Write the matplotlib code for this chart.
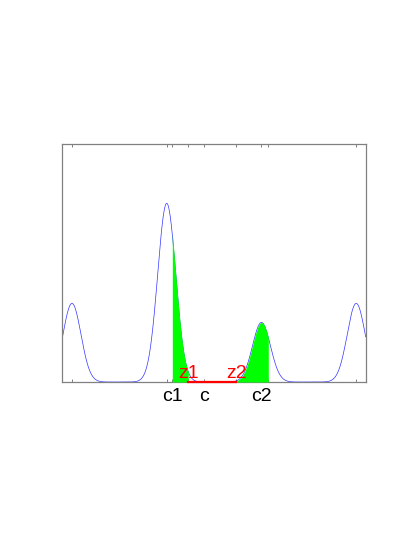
import numpy as np
import matplotlib
matplotlib.use("Agg")
import matplotlib.pyplot as plt

# peaks of the curve (centre, height), shared width
centres = [-3.0, -1.0, 1.0, 3.0]
heights = [0.33, 0.75, 0.25, 0.33]
sigma = 0.19

# marked points on the x axis
z1, z2 = -0.545, 0.469
c = -0.220
fill1 = (-0.882, z1)
fill2 = (z2, 1.144)
tick_pos = [-3.0, -1.0, -0.882, z1, c, z2, 1.0, 1.144, 3.0]
tick_lab = ["", "", "c1", "", "c", "", "c2", "", ""]

xlim = (-3.2, 3.2)


def f(x):
    y = np.zeros_like(x)
    for m, h in zip(centres, heights):
        y += h * np.exp(-(x - m) ** 2 / (2 * sigma ** 2))
    return y


x = np.linspace(xlim[0], xlim[1], 2000)
y = f(x)

fig = plt.figure(figsize=(4.15, 5.37), dpi=100)
ax = fig.add_axes([0.1506, 0.2886, 0.7306, 0.4438])

ax.plot(x, y, color="#3333ff", lw=0.5, zorder=2)
for a, b in (fill1, fill2):
    xs = np.linspace(a, b, 300)
    ax.fill_between(xs, 0, f(xs), color="#00ff00", lw=0, zorder=3)

ax.plot([z1, z2], [0, 0], color="#ff0000", lw=1.6, zorder=4, clip_on=False)
ax.text(z1, 0.017, "z1", color="#ff0000", fontsize=14, ha="center", va="baseline",
        family="Liberation Sans", zorder=5)
ax.text(z2, 0.017, "z2", color="#ff0000", fontsize=14, ha="center", va="baseline",
        family="Liberation Sans", zorder=5)

ax.set_xlim(*xlim)
ax.set_ylim(0, 1)
ax.set_xticks(tick_pos)
ax.set_xticklabels(tick_lab, fontsize=14, family="Liberation Sans")
ax.set_yticks([])
ax.tick_params(axis="x", direction="in", length=2.3, width=0.7, color="#808080",
               top=True, pad=4.5)
for s in ax.spines.values():
    s.set_color("#808080")
    s.set_linewidth(0.9)

fig.savefig("out.png", dpi=100, facecolor="white")
